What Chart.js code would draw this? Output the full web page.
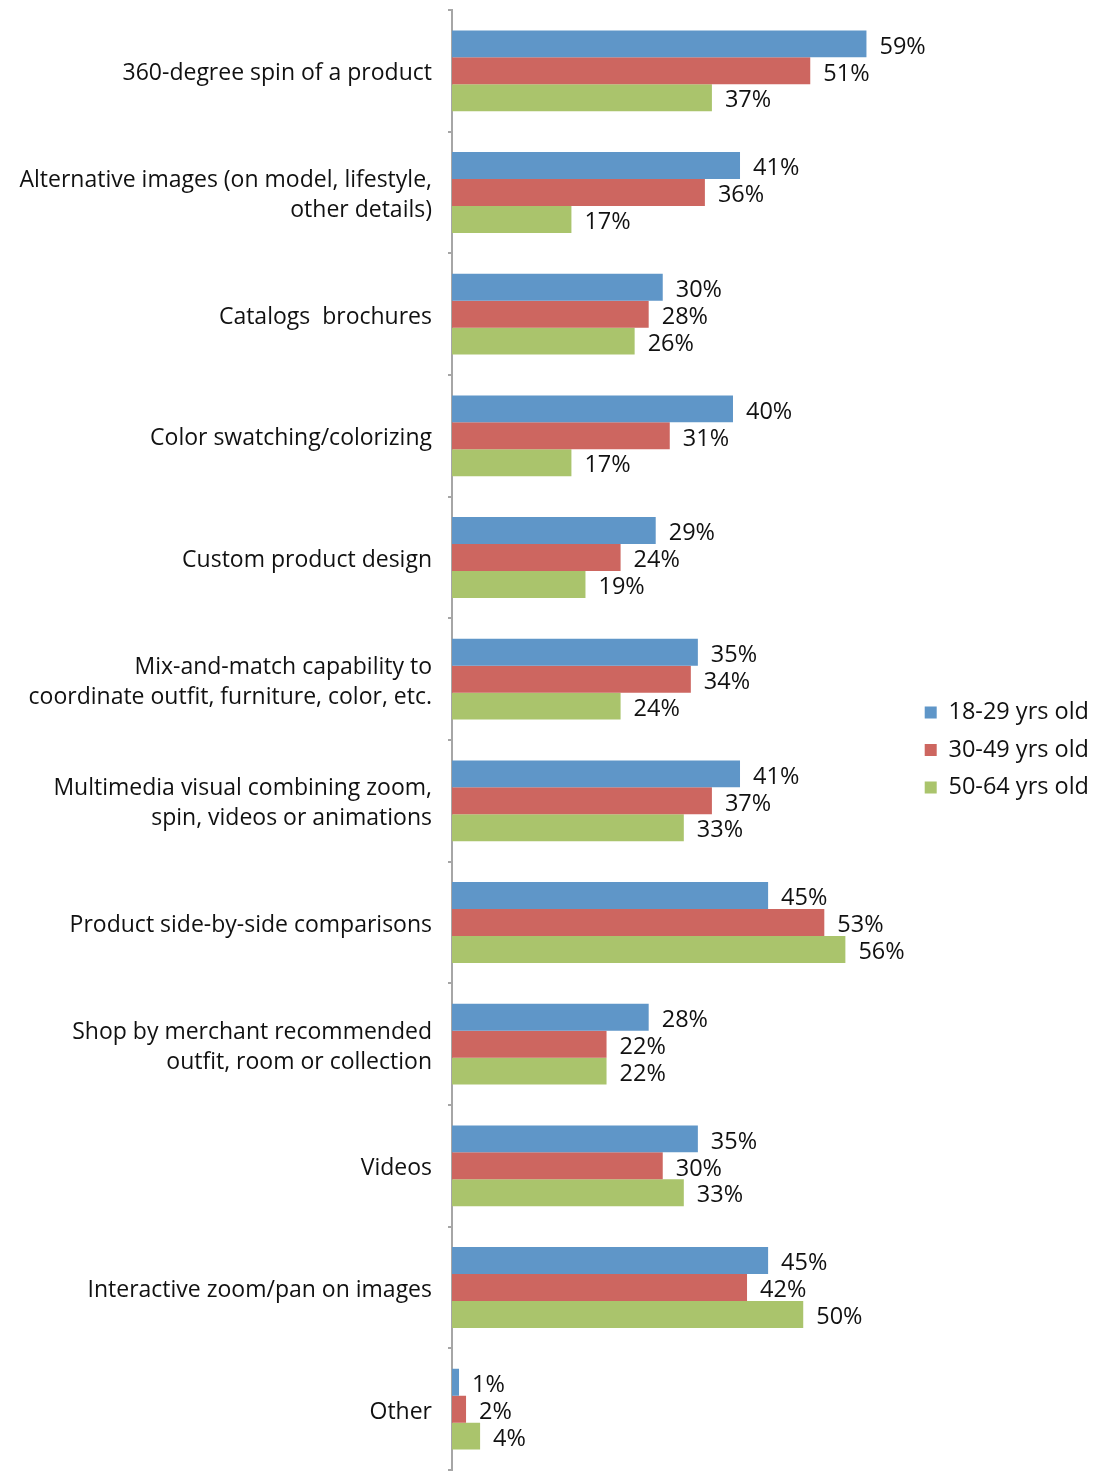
<!DOCTYPE html>
<html>
<head>
<meta charset="utf-8">
<script src="https://cdn.jsdelivr.net/npm/chart.js@4.4.1/dist/chart.umd.min.js"></script>
<style>
  html, body { margin: 0; padding: 0; background: #fff; }
  #wrap { position: relative; width: 1103px; height: 1471px; }
</style>
</head>
<body>
<div id="wrap"><canvas id="chart"></canvas></div>
<script>
(function() {
  'use strict';

  var CATEGORIES = [
    '360-degree spin of a product',
    ['Alternative images (on model, lifestyle,', 'other details)'],
    'Catalogs  brochures',
    'Color swatching/colorizing',
    'Custom product design',
    ['Mix-and-match capability to', 'coordinate outfit, furniture, color, etc.'],
    ['Multimedia visual combining zoom,', 'spin, videos or animations'],
    'Product side-by-side comparisons',
    ['Shop by merchant recommended', 'outfit, room or collection'],
    'Videos',
    'Interactive zoom/pan on images',
    'Other'
  ];

  var SERIES_NAMES = ['18-29 yrs old', '30-49 yrs old', '50-64 yrs old'];

  var AGE_18_29 = [59, 41, 30, 40, 29, 35, 41, 45, 28, 35, 45, 1];
  var AGE_30_49 = [51, 36, 28, 31, 24, 34, 37, 53, 22, 30, 42, 2];
  var AGE_50_64 = [37, 17, 26, 17, 19, 24, 33, 56, 22, 33, 50, 4];

  var COLORS = {
    blue: '#5F96C8',
    red: '#CD6660',
    green: '#AAC46C',
    axis: '#A6A6A6',
    text: '#111111'
  };

  var FONT = '"Open Sans", Lato, sans-serif';

  var valueLabels = {
    id: 'valueLabels',
    afterDatasetsDraw: function(chart) {
      var ctx = chart.ctx;
      ctx.save();
      ctx.font = '23.5px ' + FONT;
      ctx.fillStyle = COLORS.text;
      ctx.textAlign = 'left';
      ctx.textBaseline = 'middle';
      chart.data.datasets.forEach(function(ds, i) {
        var meta = chart.getDatasetMeta(i);
        meta.data.forEach(function(bar, j) {
          ctx.fillText(ds.data[j] + '%', bar.x + 13, bar.y + 3);
        });
      });
      ctx.restore();
    }
  };

  new Chart(document.getElementById('chart'), {
    type: 'bar',
    data: {
      labels: CATEGORIES,
      datasets: [
        { label: SERIES_NAMES[0], data: AGE_18_29, backgroundColor: COLORS.blue },
        { label: SERIES_NAMES[1], data: AGE_30_49, backgroundColor: COLORS.red },
        { label: SERIES_NAMES[2], data: AGE_50_64, backgroundColor: COLORS.green }
      ]
    },
    options: {
      indexAxis: 'y',
      responsive: true,
      maintainAspectRatio: false,
      animation: false,
      layout: { padding: { top: 10, bottom: 1, left: 0, right: 4 } },
      datasets: { bar: { categoryPercentage: 0.665, barPercentage: 1 } },
      plugins: {
        legend: {
          position: 'right',
          // empty title only nudges the legend items down a little
          title: { display: true, text: '', font: { size: 10, lineHeight: 1 }, padding: 5 },
          labels: {
            color: COLORS.text,
            boxWidth: 12,
            boxHeight: 12,
            padding: 14,
            font: { family: FONT, size: 23.5 }
          }
        },
        tooltip: { enabled: false }
      },
      scales: {
        x: {
          display: false,
          min: 0,
          max: 65.3
        },
        y: {
          afterFit: function(scale) {
            scale.width = 452;
            scale.paddingTop = 0;
            scale.paddingBottom = 0;
          },
          grid: {
            drawOnChartArea: false,
            tickLength: 4,
            color: COLORS.axis,
            lineWidth: 2
          },
          border: { display: true, color: COLORS.axis, width: 2 },
          ticks: {
            color: COLORS.text,
            padding: 16,
            labelOffset: 3,
            font: { family: FONT, size: 23, lineHeight: 1.3 }
          }
        }
      }
    },
    plugins: [valueLabels]
  });
})();
</script>
</body>
</html>
